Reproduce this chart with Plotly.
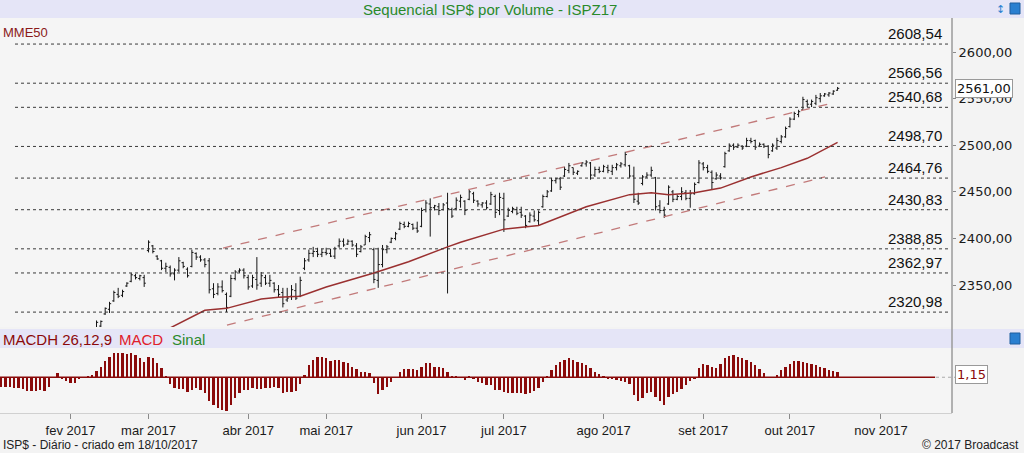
import plotly.graph_objects as go

# pregões numerados (0 = 02/01/2017); barras OHLC do ISPZ17
first_bar = 27
bar_open = [2302, 2306, 2319, 2324, 2333, 2340, 2339, 2349, 2354, 2360,
            2357, 2358, 2387, 2392, 2381, 2376, 2368, 2369, 2362, 2366,
            2374, 2367, 2370, 2384, 2380, 2377, 2376, 2346, 2341, 2348,
            2340, 2338, 2357, 2365, 2366, 2358, 2349, 2356, 2352, 2358,
            2352, 2352, 2345, 2342, 2334, 2338, 2344, 2338, 2368, 2377,
            2384, 2386, 2383, 2385, 2384, 2381, 2392, 2397, 2394, 2397,
            2392, 2386, 2393, 2401, 2388, 2355, 2372, 2388, 2396, 2400,
            2410, 2415, 2413, 2415, 2411, 2413, 2431, 2437, 2433, 2434,
            2431, 2438, 2431, 2432, 2440, 2440, 2442, 2448, 2440, 2436,
            2438, 2437, 2445, 2430, 2443, 2424, 2429, 2431, 2428, 2424,
            2418, 2424, 2419, 2434, 2445, 2451, 2462, 2464, 2467, 2473,
            2476, 2470, 2478, 2480, 2481, 2468, 2474, 2472, 2476, 2472,
            2476, 2478, 2479, 2478, 2467, 2440, 2459, 2466, 2468, 2465,
            2435, 2430, 2437, 2450, 2442, 2445, 2449, 2443, 2448, 2460,
            2480, 2476, 2471, 2464, 2467, 2477, 2494, 2500, 2498, 2499,
            2499, 2505, 2505, 2499, 2501, 2499, 2494, 2497, 2504, 2509,
            2520, 2528, 2533, 2538, 2547, 2544, 2545, 2550, 2553, 2554,
            2555, 2559]
bar_high = [2312, 2312, 2326, 2332, 2344, 2347, 2345, 2353, 2363, 2362,
            2361, 2361, 2398, 2393, 2382, 2377, 2374, 2371, 2368, 2380,
            2375, 2369, 2388, 2385, 2382, 2379, 2379, 2352, 2352, 2355,
            2342, 2361, 2366, 2368, 2368, 2361, 2361, 2380, 2364, 2361,
            2361, 2353, 2350, 2347, 2347, 2350, 2352, 2359, 2379, 2388,
            2391, 2390, 2389, 2390, 2389, 2391, 2400, 2400, 2399, 2398,
            2395, 2393, 2404, 2407, 2390, 2390, 2393, 2393, 2401, 2407,
            2418, 2418, 2418, 2416, 2418, 2433, 2441, 2443, 2436, 2438,
            2438, 2449, 2433, 2444, 2447, 2441, 2452, 2450, 2441, 2439,
            2441, 2450, 2447, 2449, 2449, 2433, 2434, 2434, 2434, 2425,
            2428, 2430, 2430, 2447, 2452, 2465, 2465, 2466, 2477, 2481,
            2476, 2473, 2482, 2484, 2482, 2477, 2477, 2479, 2479, 2479,
            2481, 2482, 2493, 2479, 2477, 2449, 2468, 2471, 2477, 2466,
            2441, 2434, 2457, 2452, 2447, 2455, 2452, 2452, 2460, 2484,
            2482, 2479, 2473, 2471, 2470, 2493, 2502, 2502, 2502, 2500,
            2508, 2508, 2506, 2503, 2502, 2500, 2502, 2508, 2511, 2520,
            2530, 2536, 2538, 2552, 2549, 2549, 2554, 2556, 2556, 2557,
            2559, 2562.5]
bar_low = [2300, 2304, 2318, 2320, 2332, 2336, 2337, 2348, 2353, 2356,
           2355, 2348, 2385, 2384, 2377, 2366, 2364, 2359, 2355, 2364,
           2368, 2358, 2369, 2377, 2375, 2369, 2341, 2336, 2339, 2342,
           2321, 2337, 2355, 2363, 2357, 2345, 2347, 2345, 2348, 2350,
           2348, 2342, 2337, 2326, 2332, 2334, 2334, 2337, 2366, 2375,
           2380, 2380, 2380, 2382, 2380, 2378, 2390, 2391, 2393, 2391,
           2380, 2385, 2393, 2396, 2352, 2347, 2369, 2384, 2395, 2398,
           2409, 2411, 2412, 2409, 2406, 2412, 2428, 2402, 2430, 2425,
           2430, 2341, 2422, 2430, 2433, 2425, 2441, 2438, 2434, 2433,
           2431, 2436, 2422, 2425, 2407, 2423, 2427, 2425, 2422, 2411,
           2417, 2418, 2414, 2433, 2444, 2450, 2459, 2452, 2466, 2470,
           2468, 2468, 2477, 2477, 2463, 2466, 2470, 2471, 2470, 2468,
           2473, 2476, 2477, 2465, 2438, 2436, 2457, 2465, 2466, 2430,
           2427, 2422, 2436, 2439, 2441, 2441, 2441, 2433, 2447, 2459,
           2473, 2470, 2452, 2463, 2463, 2476, 2493, 2495, 2497, 2495,
           2498, 2502, 2495, 2498, 2497, 2486, 2493, 2495, 2502, 2508,
           2519, 2527, 2530, 2538, 2541, 2541, 2543, 2546, 2552, 2552,
           2554, 2558.5]
bar_close = [2310, 2311, 2325, 2330, 2342, 2338, 2343, 2352, 2361, 2358,
             2360, 2352, 2396, 2386, 2378, 2368, 2370, 2362, 2366, 2376,
             2370, 2360, 2385, 2380, 2377, 2372, 2345, 2340, 2348, 2344,
             2326, 2357, 2364, 2366, 2360, 2348, 2358, 2350, 2360, 2352,
             2355, 2345, 2340, 2330, 2336, 2345, 2336, 2355, 2376, 2384,
             2386, 2383, 2385, 2384, 2381, 2389, 2397, 2393, 2397, 2393,
             2383, 2391, 2402, 2404, 2356, 2372, 2388, 2391, 2400, 2405,
             2416, 2413, 2416, 2411, 2408, 2430, 2438, 2433, 2435, 2430,
             2436, 2432, 2424, 2441, 2444, 2430, 2450, 2441, 2437, 2438,
             2433, 2447, 2428, 2444, 2420, 2430, 2432, 2427, 2425, 2414,
             2425, 2420, 2428, 2445, 2450, 2462, 2464, 2455, 2474, 2478,
             2471, 2472, 2481, 2482, 2468, 2474, 2472, 2477, 2473, 2476,
             2479, 2480, 2490, 2467, 2442, 2438, 2466, 2468, 2473, 2434,
             2430, 2425, 2455, 2442, 2445, 2450, 2443, 2448, 2458, 2481,
             2476, 2472, 2460, 2468, 2465, 2491, 2500, 2498, 2500, 2497,
             2505, 2504, 2498, 2501, 2499, 2490, 2500, 2505, 2509, 2518,
             2528, 2534, 2536, 2549, 2544, 2547, 2551, 2553, 2555, 2556,
             2558, 2561]
days = list(range(first_bar, first_bar + len(bar_close)))

# média móvel exponencial de 50 (pontos lidos)
mme50_day = [40, 44, 52, 57, 65, 69, 74, 80, 91, 99, 108, 111, 121, 129,
             140, 150, 155, 159, 165, 171, 178, 185, 191, 198]
mme50_val = [2294, 2304, 2323, 2325, 2335, 2337, 2338, 2348, 2363, 2375,
             2391, 2396, 2410, 2414, 2434, 2447, 2449, 2447, 2449, 2454,
             2466, 2476, 2486, 2503]

# canal de alta (linhas tracejadas)
canal_sup_day = [56.2, 196.9]
canal_sup_val = [2389.7, 2545.3]
canal_inf_day = [57.1, 195.1]
canal_inf_val = [2307.0, 2466.0]

niveis = [2608.54, 2566.56, 2540.68, 2498.70, 2464.76, 2430.83,
          2388.85, 2362.97, 2320.98]

# histograma MACD 26,12,9
first_macd = 5
macdh = [-4.2, -4.2, -4.2, -4.6, -4.6, -4.9, -5.6, -5.7, -5.7, -5.4,
         -5.6, -3.9, 0.0, 1.7, -0.7, -1.5, -2.5, -2.5, -0.4, 0.1,
         0.4, 1.0, 2.8, 4.4, 6.9, 8.6, 10.1, 10.1, 10.0, 9.9,
         10.1, 9.3, 7.9, 6.5, 8.6, 7.9, 5.8, 3.8, 0.6, -2.9,
         -4.6, -4.9, -4.9, -6.0, -5.3, -4.6, -5.3, -6.7, -9.9, -11.5,
         -12.9, -13.6, -13.9, -11.5, -8.8, -6.7, -5.3, -5.3, -4.6, -4.9,
         -4.9, -4.6, -4.3, -3.9, -4.3, -6.7, -6.0, -6.0, -5.7, -2.9,
         1.0, 5.1, 7.2, 8.3, 8.3, 7.9, 6.8, 7.2, 7.2, 6.5,
         5.8, 4.4, 3.5, 2.4, 2.1, 1.7, -2.5, -6.9, -5.3, -3.9,
         -1.8, 0.0, 2.4, 3.5, 3.5, 3.3, 3.1, 4.4, 5.8, 5.8,
         4.4, 4.2, 3.8, 2.1, 0.6, 0.3, 0.0, -1.1, 0.6, -0.4,
         -1.8, -2.5, -3.2, -3.2, -5.3, -5.3, -6.0, -6.7, -6.7, -6.4,
         -6.7, -7.1, -6.7, -5.7, -4.3, -1.8, 0.3, 3.1, 5.1, 6.3,
         7.2, 7.9, 7.2, 6.3, 5.8, 5.1, 4.0, 2.4, 1.3, 0.3,
         -0.4, -0.8, -1.1, -1.5, -2.1, -2.9, -7.4, -9.9, -8.5, -6.7,
         -6.0, -8.1, -10.1, -11.5, -8.1, -7.1, -6.0, -4.9, -3.2, -1.5,
         -0.4, 4.0, 5.4, 5.1, 4.4, 3.8, 5.4, 7.9, 8.9, 9.3,
         8.6, 7.9, 7.2, 6.5, 5.1, 3.5, 1.7, 0.0, 0.0, 1.0,
         3.1, 4.4, 5.4, 6.8, 6.8, 6.3, 5.8, 5.4, 5.1, 4.4,
         3.8, 3.1, 2.6, 2.4]
macd_days = list(range(first_macd, first_macd + len(macdh)))

mes_dia = [21, 39, 62, 80, 102, 121, 144, 167, 187, 208]
mes_txt = ["fev 2017", "mar 2017", "abr 2017", "mai 2017", "jun 2017",
           "jul 2017", "ago 2017", "set 2017", "out 2017", "nov 2017"]
eixo_preco = [2350, 2400, 2450, 2500, 2550, 2600]
ultimo_preco = 2561.00
ultimo_macdh = 1.15

SANS = "Liberation Sans, Arial"
VERD = "DejaVu Sans, Verdana"
W, H, R, T, B = 1024, 453, 72, 18, 40
PW, PH = W - R, H - T - B
x_range = [4.73, 224.4]


def py(px):
    # pixel vertical -> coordenada paper
    return (H - B - px) / PH


def px_(x):
    return x / PW


def rotulo(x, y, text, size, color, family=SANS, anchor="left"):
    return dict(xref="paper", yref="paper", x=px_(x), y=py(y), text=text,
                xanchor=anchor, yanchor="middle", showarrow=False,
                font=dict(family=family, size=size, color=color))


fig = go.Figure()
fig.add_trace(go.Ohlc(
    x=days, open=bar_open, high=bar_high, low=bar_low, close=bar_close,
    increasing_line_color="#151515", decreasing_line_color="#151515",
    line_width=1, tickwidth=0.38, xaxis="x", yaxis="y", hoverinfo="skip"))
fig.add_trace(go.Scatter(
    x=mme50_day, y=mme50_val, mode="lines", line=dict(color="#9a3030", width=1.5),
    xaxis="x", yaxis="y", hoverinfo="skip"))
for dd, vv in [(canal_sup_day, canal_sup_val), (canal_inf_day, canal_inf_val)]:
    fig.add_trace(go.Scatter(
        x=dd, y=vv, mode="lines",
        line=dict(color="#c27a7a", width=1.3, dash="dash"),
        xaxis="x", yaxis="y", hoverinfo="skip"))
fig.add_trace(go.Bar(
    x=macd_days, y=macdh, width=0.55, marker=dict(color="#8a0a0a", line_width=0),
    xaxis="x2", yaxis="y2", hoverinfo="skip"))

shapes = [
    # faixa do título e do cabeçalho do MACD
    dict(type="rect", xref="paper", yref="paper", x0=0, x1=W / PW, y0=1, y1=py(0),
         fillcolor="#e5e5f7", line_width=0, layer="below"),
    dict(type="rect", xref="paper", yref="paper", x0=0, x1=W / PW, y0=py(348), y1=py(329),
         fillcolor="#e5e5f7", line_width=0, layer="below"),
    # separador do eixo
    dict(type="line", xref="paper", yref="paper", x0=1, x1=1, y0=0, y1=1,
         line=dict(color="#9a9a9a", width=1.5)),
    # linha zero do MACD e ligação ao rótulo
    dict(type="line", xref="x2", yref="y2", x0=x_range[0], x1=220.5, y0=0, y1=0,
         line=dict(color="#8a0a0a", width=1.5)),
    dict(type="line", xref="paper", yref="y2", x0=px_(936), x1=px_(955), y0=0, y1=0,
         line=dict(color="#aaaaaa", width=1, dash="dot")),
    # ícones
    dict(type="rect", xref="paper", yref="paper", x0=px_(1010), x1=px_(1020),
         y0=py(14), y1=py(3), fillcolor="#2a7fd0", line=dict(color="#1f5f9f", width=1)),
    dict(type="rect", xref="paper", yref="paper", x0=px_(1010), x1=px_(1020),
         y0=py(344), y1=py(333), fillcolor="#2a7fd0", line=dict(color="#1f5f9f", width=1)),
]
annotations = []
for nv in niveis:
    shapes.append(dict(type="line", xref="paper", yref="y", x0=px_(15), x1=px_(950),
                       y0=nv, y1=nv, line=dict(color="#3a3a3a", width=1, dash="dot")))
    annotations.append(dict(
        xref="paper", yref="y", x=px_(944), y=nv, xanchor="right", yanchor="bottom",
        text=f"{nv:.2f}".replace(".", ","), showarrow=False,
        font=dict(family=SANS, size=15, color="#111111")))

annotations += [
    rotulo(490, 9, "Sequencial ISP$ por Volume - ISPZ17", 15, "#2a8a2a", anchor="center"),
    rotulo(1000, 9, "↕", 11, "#2a7fd0", family=VERD, anchor="center"),
    rotulo(1, 33, "MME50", 13, "#8b1a1a"),
    rotulo(1, 339, "MACDH 26,12,9", 15, "#8b0a0a"),
    rotulo(117, 339, "MACD", 15, "#e0202a"),
    rotulo(170, 339, "Sinal", 15, "#2a8a2a"),
    rotulo(1, 445, "ISP$ - Diário - criado em 18/10/2017", 12, "#222222"),
    rotulo(1021, 445, "© 2017 Broadcast", 12, "#222222", anchor="right"),
    dict(xref="paper", yref="y", x=px_(955), y=ultimo_preco, xanchor="left",
         yanchor="middle", text=f"{ultimo_preco:.2f}".replace(".", ","), showarrow=False,
         bgcolor="#ffffff", bordercolor="#999999", borderwidth=1, borderpad=1,
         font=dict(family=VERD, size=13, color="#111111")),
    dict(xref="paper", yref="y2", x=px_(955), y=ultimo_macdh, xanchor="left",
         yanchor="middle", text=f"{ultimo_macdh:.2f}".replace(".", ","), showarrow=False,
         bgcolor="#ffffff", bordercolor="#999999", borderwidth=1, borderpad=1,
         font=dict(family=VERD, size=13, color="#8b0a0a")),
]

fig.update_layout(
    width=W, height=H,
    margin=dict(l=0, r=R, t=T, b=B, autoexpand=False),
    paper_bgcolor="#f3f3f3", plot_bgcolor="#f5f5f5",
    showlegend=False, separators=",.", bargap=0,
    xaxis=dict(domain=[0, 1], range=x_range, anchor="y", showticklabels=False,
               showgrid=False, zeroline=False, automargin=False,
               rangeslider=dict(visible=False)),
    yaxis=dict(domain=[py(327), 1], range=[2305, 2636.5], side="right",
               tickvals=eixo_preco, tickformat=".2f", ticks="outside", ticklen=3,
               tickcolor="#8a8a8a", showgrid=False, zeroline=False, automargin=False,
               tickfont=dict(family=VERD, size=13, color="#1a1a1a")),
    xaxis2=dict(domain=[0, 1], range=x_range, anchor="y2", tickvals=mes_dia,
                ticktext=mes_txt, ticks="outside", ticklen=5, tickcolor="#8a8a8a",
                showgrid=False, zeroline=False, showline=True, linecolor="#d0d0d0",
                automargin=False,
                tickfont=dict(family=SANS, size=13, color="#1a1a1a")),
    yaxis2=dict(domain=[0, py(348)], range=[-14.9, 12.2], side="right", anchor="x2",
                showticklabels=False, showgrid=False, zeroline=False, automargin=False),
    shapes=shapes, annotations=annotations,
)

fig.write_html("out.html", config={"displayModeBar": False},
               post_script="document.body.style.margin='0';")
